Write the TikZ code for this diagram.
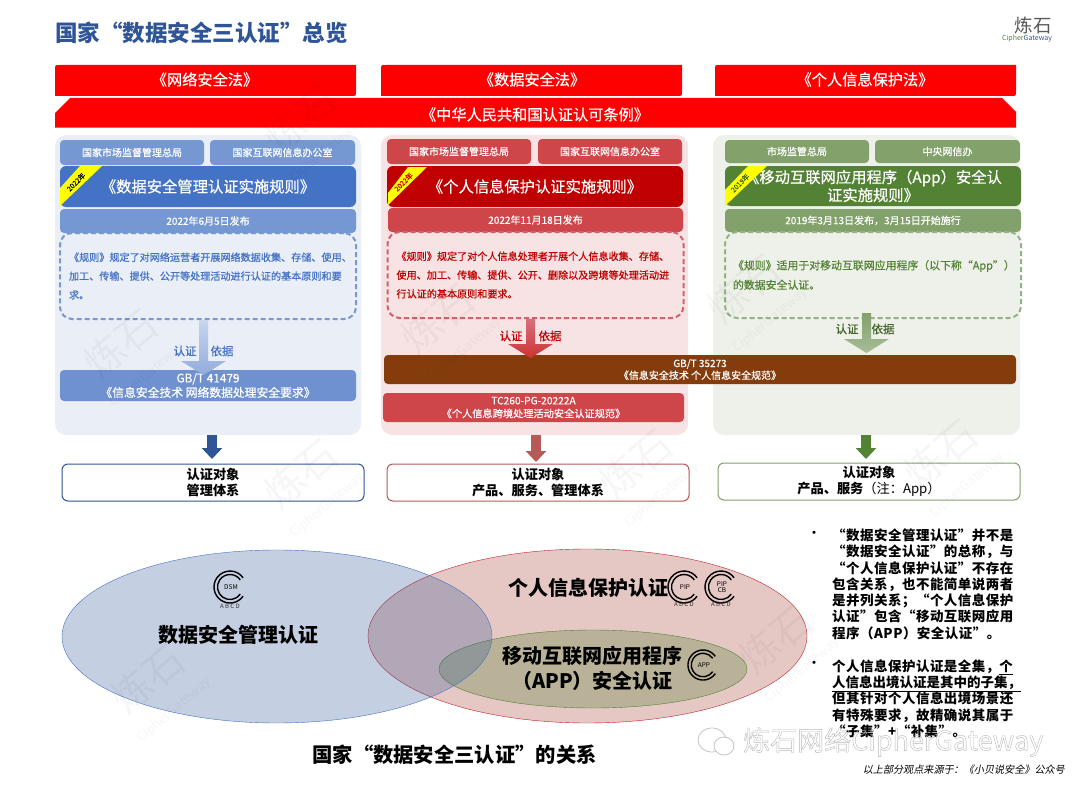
\documentclass[tikz,border=0pt]{standalone}
\usepackage{fontspec}
\setmainfont{Noto Sans CJK SC}
\newfontfamily\medfont[FakeBold=.6]{Noto Sans CJK SC}
\newfontfamily\slantfont[FakeSlant=.2]{Noto Sans CJK SC}
\newfontfamily\notefont[LetterSpace=3.5]{Noto Sans CJK SC}
\usetikzlibrary{arrows.meta,calc}
\definecolor{titleblue}{HTML}{2F5597}
\definecolor{lawred}{HTML}{FF0000}
\definecolor{bluepanel}{HTML}{E9EEF7}
\definecolor{bluehd}{HTML}{7597D2}
\definecolor{bluemain}{HTML}{4472C4}
\definecolor{bluestd}{HTML}{6F91D0}
\definecolor{redpanel}{HTML}{F8E3E4}
\definecolor{redhd}{HTML}{CE4649}
\definecolor{redmain}{HTML}{C00000}
\definecolor{reddash}{HTML}{D0626C}
\definecolor{reddown}{HTML}{B55A58}
\definecolor{greenpanel}{HTML}{EEF0EA}
\definecolor{greenhd}{HTML}{82A16B}
\definecolor{greenmain}{HTML}{548235}
\definecolor{greendash}{HTML}{95B285}
\definecolor{greendk}{HTML}{3F6328}
\definecolor{brownstd}{HTML}{843C0C}
\definecolor{vennred}{HTML}{A23A2C}
\definecolor{vennredline}{HTML}{C0202C}
\definecolor{ribbon}{HTML}{FFFF00}
\definecolor{wmgray}{HTML}{C4C4C4}

\begin{document}
\begin{tikzpicture}
		[x=1pt,y=-1pt,
		box/.style={rectangle,inner sep=0,rounded corners=4},
		panel/.style={box,rounded corners=11},
		hdbox/.style={box,text=white,font=\fontsize{10}{12}\selectfont\medfont},
		titlebox/.style={box,rounded corners=6,text=white,align=center,font=\fontsize{15.3}{18}\selectfont\medfont},
		stdbox/.style={box,text=white,align=center},
		rulebox/.style={box,rounded corners=12,dashed,dash pattern=on 5pt off 3pt,line width=2,inner xsep=9,text width=278,align=left,font=\fontsize{10.1}{18.8}\selectfont\medfont},
		tagtext/.style={font=\fontsize{11.5}{13}\selectfont\medfont},
		goalbox/.style={box,rounded corners=6,fill=white,line width=1,align=center,font=\fontsize{13.2}{16}\selectfont\bfseries},
		yeartext/.style={rotate=45,font=\fontsize{7}{8}\selectfont\medfont},
		downarrow/.style={line width=10,-{Triangle[width=20pt,length=11pt]}},
		vennlabel/.style={align=center,font=\fontsize{20}{25}\selectfont\bfseries},
		lawtext/.style={text=white,font=\fontsize{15.2}{17}\selectfont\medfont},
		pics/certmark/.style={code={
			\draw[line width=1.4] (35:16) arc[start angle=35,end angle=325,radius=16];
			\draw[line width=1.4] (35:12.5) arc[start angle=35,end angle=325,radius=12.5];
			\node[align=center,font=\fontsize{6.5}{6.5}\selectfont] (-tag) at (1,0) {#1};
		}}]
		\useasboundingbox (0,0) rectangle (1080,792);
		\fill[white] (0,0) rectangle (1080,792);

		\node[anchor=west,inner sep=0,text=titleblue,font=\fontsize{22.5}{26}\selectfont\bfseries] (title) at (55,32.5) {国家“数据安全三认证”总览};
		\node[text=black!65,font=\fontsize{18.5}{20}\selectfont] (logo) at (1033,25) {炼石};
		\node[font=\fontsize{7}{8}\selectfont] (logotext) at (1027,39) {\textcolor{greenmain}{Cipher}\textcolor{titleblue}{Gateway}};

		\foreach \xa/\xb in {55/356,381/682,715/1016}
			\fill[lawred] (\xa,96) -- (\xa,70) .. controls (\xa,65) .. (\xa+5,65) -- (\xb,65) -- (\xb,91) .. controls (\xb,96) .. (\xb-5,96) -- cycle;
		\fill[lawred] (55,127.5) -- (55,113) -- (70,98) -- (1002,98) -- (1016,112) -- (1016,127.5) -- cycle;
		\node[lawtext] (law1) at (205,79.5) {《网络安全法》};
		\node[lawtext] (law2) at (532,79.5) {《数据安全法》};
		\node[lawtext] (law3) at (865,79.5) {《个人信息保护法》};
		\node[lawtext] (law4) at (535,114.5) {《中华人民共和国认证认可条例》};

		\node[panel,fill=bluepanel,minimum width=306,minimum height=300] (panel1) at (208,285) {};
		\node[panel,fill=redpanel,minimum width=307,minimum height=300] (panel2) at (534.5,285) {};
		\node[panel,fill=greenpanel,minimum width=307,minimum height=300] (panel3) at (866.5,285) {};

		\node[hdbox,fill=bluehd,minimum width=144,minimum height=25] (hd11) at (132,152.5) {国家市场监督管理总局};
		\node[hdbox,fill=bluehd,minimum width=145,minimum height=25] (hd12) at (282.5,152.5) {国家互联网信息办公室};
		\node[titlebox,fill=bluemain,minimum width=296,minimum height=41] (rule11) at (208,186.5) {《数据安全管理认证实施规则》};
		\fill[ribbon] (80,166) -- (102,166) -- (60,206) -- (60,188) -- cycle;
		\node[yeartext,text=black!75!blue] (year1) at (76,182) {2022年};
		\node[hdbox,fill=bluehd,minimum width=296,minimum height=24] (date1) at (208,221) {2022年6月5日发布};
		\node[rulebox,draw=bluehd,text=bluemain,minimum width=296,minimum height=86] (rule1) at (208,276) {《规则》规定了对网络运营者开展网络数据收集、存储、使用、\\加工、传输、提供、公开等处理活动进行认证的基本原则和要\\求。};
		\node[stdbox,fill=bluestd,minimum width=296,minimum height=31,font=\fontsize{11.8}{14.5}\selectfont\medfont] (std1) at (208,385.5) {GB/T 41479\\《信息安全技术 网络数据处理安全要求》};

		\node[hdbox,fill=redhd,minimum width=144,minimum height=25] (hd21) at (459,151.5) {国家市场监督管理总局};
		\node[hdbox,fill=redhd,minimum width=144,minimum height=25] (hd22) at (610,151.5) {国家互联网信息办公室};
		\node[titlebox,fill=redmain,minimum width=296,minimum height=41] (rule21) at (535,186.5) {《个人信息保护认证实施规则》};
		\fill[ribbon] (408,167) -- (427,167) -- (388,205) -- (388,193) -- cycle;
		\node[yeartext,text=redmain] (year2) at (403.5,182) {2022年};
		\node[hdbox,fill=redhd,minimum width=295,minimum height=24] (date2) at (535.5,220) {2022年11月18日发布};
		\node[rulebox,draw=reddash,text=redmain,minimum width=295,minimum height=86] (rule2) at (535.5,275) {《规则》规定了对个人信息处理者开展个人信息收集、存储、\\使用、加工、传输、提供、公开、删除以及跨境等处理活动进\\行认证的基本原则和要求。};
		\node[stdbox,fill=redhd,minimum width=301,minimum height=29,font=\fontsize{10.2}{13}\selectfont\medfont] (std3) at (533.5,407.5) {TC260-PG-20222A\\《个人信息跨境处理活动安全认证规范》};

		\node[hdbox,fill=greenhd,minimum width=144,minimum height=23] (hd31) at (797,151.5) {市场监管总局};
		\node[hdbox,fill=greenhd,minimum width=145,minimum height=23] (hd32) at (947.5,151.5) {中央网信办};
		\node[titlebox,fill=greenmain,minimum width=296,minimum height=40] (rule31) at (873,186) {《移动互联网应用程序（App）安全认\\证实施规则》};
		\fill[ribbon] (748,166) -- (767,166) -- (725,206) -- (725,190) -- cycle;
		\node[yeartext,text=greendk] (year3) at (740,183) {2019年};
		\node[hdbox,fill=greenhd,minimum width=296,minimum height=23] (date3) at (873,220.5) {2019年3月13日发布，3月15日开始施行};
		\node[rulebox,draw=greendash,text=greenmain,minimum width=296,minimum height=86,inner xsep=8,text width=280,font=\fontsize{10.9}{19.5}\selectfont\medfont] (rule3) at (873,275) {《规则》适用于对移动互联网应用程序（以下称“App”）\\的数据安全认证。};

		\node[stdbox,fill=brownstd,minimum width=632,minimum height=29,font=\fontsize{10}{12}\selectfont\medfont] (std2) at (700,369.5) {GB/T 35273\\《信息安全技术 个人信息安全规范》};

		\coordinate (tip1) at (203.5,375);
		\coordinate (tip2) at (530.5,358);
		\coordinate (tip3) at (866.5,353);
		\foreach \src/\apex/\rise/\ca/\cb/\cc in {rule1/tip1/0/bluehd!40/bluehd!65/bluehd!80,rule2/tip2/0/reddash!90/reddash!45/redmain!80,rule3/tip3/-6/greenhd/greenhd!60/greenhd!70}
			\shade[top color=\ca,middle color=\cb,bottom color=\cc]
				($(\apex |- \src.south)+(-4.5,\rise)$) -- ($(\apex)+(-4.5,-14)$) -- ($(\apex)+(-22.5,-14)$) -- (\apex)
				-- ($(\apex)+(22.5,-14)$) -- ($(\apex)+(4.5,-14)$) -- ($(\apex |- \src.south)+(4.5,\rise)$) -- cycle;

		\node[tagtext,text=bluemain] (tag11) at (185,351) {认证};
		\node[tagtext,text=bluemain] (tag12) at (222,351) {依据};
		\node[tagtext,text=redmain] (tag21) at (511,336) {认证};
		\node[tagtext,text=redmain] (tag22) at (550,336) {依据};
		\node[tagtext,text=greendk] (tag31) at (847,329) {认证};
		\node[tagtext,text=greendk] (tag32) at (883,329) {依据};

		\node[goalbox,draw=titleblue,minimum width=302,minimum height=37] (goal1) at (213,482.5) {认证对象\\管理体系};
		\node[goalbox,draw=reddown,minimum width=302,minimum height=37] (goal2) at (538,482.5) {认证对象\\产品、服务、管理体系};
		\node[goalbox,draw=greenhd,minimum width=302,minimum height=37] (goal3) at (869,481.5) {认证对象\\产品、服务{\mdseries（注：App）}};

		\coordinate (end1) at (212,459);
		\coordinate (end2) at (536,462);
		\coordinate (end3) at (866,459);
		\draw[downarrow,draw=titleblue] (panel1.south -| end1) -- (end1);
		\draw[downarrow,draw=reddown] (panel2.south -| end2) -- (end2);
		\draw[downarrow,draw=greenmain] (panel3.south -| end3) -- (end3);

		\fill[vennred,fill opacity=.28] (587.5,636) ellipse [x radius=219.5,y radius=87];
		\draw[vennredline] (587.5,636) ellipse [x radius=219.5,y radius=87];
		\fill[greenmain,fill opacity=.3] (593,669) ellipse [x radius=154,y radius=39];
		\draw[greenmain] (593,669) ellipse [x radius=154,y radius=39];
		\fill[titleblue,fill opacity=.28] (277,636.5) ellipse [x radius=215,y radius=86.5];
		\draw[bluemain] (277,636.5) ellipse [x radius=215,y radius=86.5];

		\node[vennlabel] (venn1) at (238.5,635) {数据安全管理认证};
		\node[vennlabel] (venn2) at (588,588) {个人信息保护认证};
		\node[vennlabel] (venn3) at (592.5,668.5) {移动互联网应用程序\\（APP）安全认证};
		\node[font=\fontsize{20.3}{24}\selectfont\bfseries] (caption) at (454.5,755) {国家“数据安全三认证”的关系};

		\pic (mark1) at (230,587) {certmark=DSM};
		\pic (mark2) at (684,587) {certmark=PIP};
		\pic (mark3) at (721,587) {certmark={PIP\\CB}};
		\pic[scale=.94] (mark4) at (703,665) {certmark=APP};
		\node[font=\fontsize{6}{7}\selectfont,text=black!80] (abcd1) at (230,606) {A B C D};
		\node[font=\fontsize{6}{7}\selectfont,text=black!80] (abcd2) at (684,604.5) {A B C D};
		\node[font=\fontsize{6}{7}\selectfont,text=black!80] (abcd3) at (721,604.5) {A B C D};

		\node[font=\fontsize{15}{16}\selectfont] (dot1) at (814,535) {•};
		\node[font=\fontsize{15}{16}\selectfont] (dot2) at (814,665) {•};
		\node[anchor=north west,inner sep=0,align=left,font=\fontsize{13.5}{16.3}\selectfont\notefont\bfseries] (note1) at (832,528.5) {“数据安全管理认证”并不是\\“数据安全认证”的总称，与\\“个人信息保护认证”不存在\\包含关系，也不能简单说两者\\是并列关系；“个人信息保护\\认证”包含“移动互联网应用\\程序（APP）安全认证”。};
		\node[anchor=north west,inner sep=0,align=left,font=\fontsize{13.5}{16.3}\selectfont\notefont\bfseries] (note2) at (832,659.5) {个人信息保护认证是全集，\underline{个}\\\underline{{\normalfont\bfseries 人信息出境认证是其中的子集，}}\\但其针对个人信息出境场景还\\有特殊要求，故精确说其属于\\“子集”+“补集”。};
		\node[anchor=east,inner sep=0,font=\fontsize{10.1}{12}\selectfont\slantfont] (source) at (1065,770) {以上部分观点来源于：《小贝说安全》公众号};

		\foreach \xa/\ya [count=\i] in {130/355,447/330,753/300,310/485,645/475,950/465,157/690,785/650,310/130}
			\node[rotate=40,align=center,text=black,opacity=.035,font=\fontsize{40}{34}\selectfont] (mark\i) at (\xa,\ya) {炼石\\[-4pt]{\fontsize{13}{14}\selectfont CipherGateway}};

		\draw[wmgray,fill=white,line width=.8] (712,740) ellipse [x radius=14,y radius=12];
		\draw[wmgray,fill=white,line width=.8] (724,746) ellipse [x radius=10,y radius=9];
		\node[anchor=west,inner sep=0,text=wmgray,font=\fontsize{27}{30}\selectfont] (wechat) at (743,742) {\special{pdf:code q 1 Tr .4 w .72 G}炼石网络CipherGateway\special{pdf:code Q}};
	\end{tikzpicture}
\end{document}
